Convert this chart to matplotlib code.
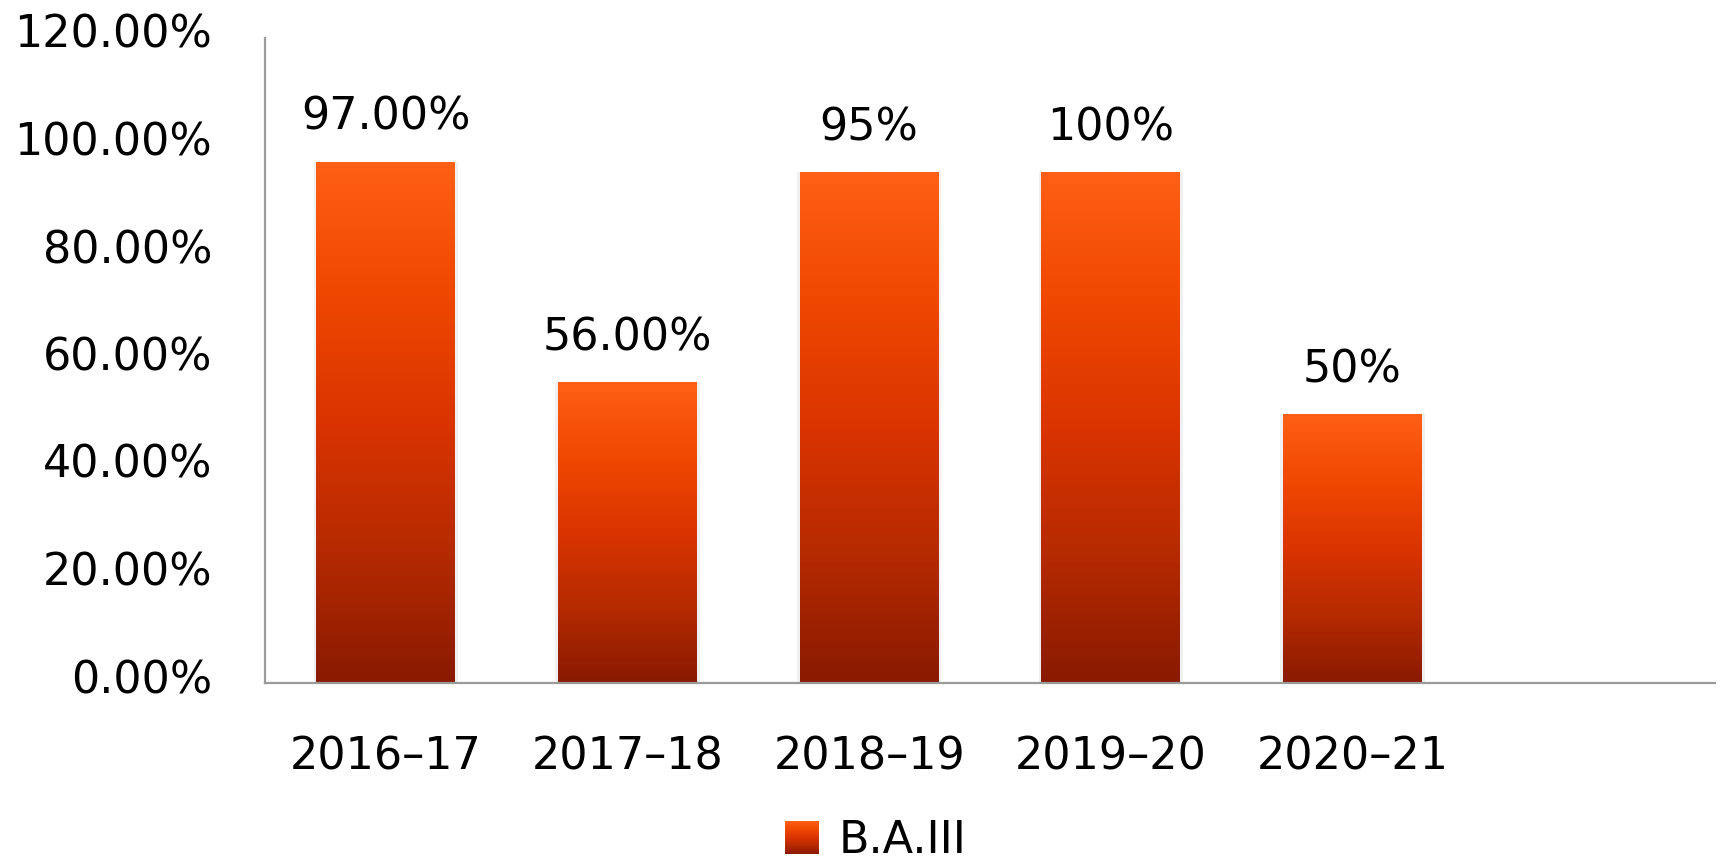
import matplotlib
matplotlib.use("Agg")
import matplotlib.pyplot as plt
import matplotlib.transforms as mtransforms
import numpy as np
from matplotlib.colors import LinearSegmentedColormap
from matplotlib.ticker import FuncFormatter, MultipleLocator

# ----------------------------
# Data
# ----------------------------
years = ["2016–17", "2017–18", "2018–19", "2019–20", "2020–21", ""]
values = [97, 56, 95, 95, 50, 0]
value_labels = ["97.00%", "56.00%", "95%", "100%", "50%", ""]
series_name = "B.A.III"

# ----------------------------
# Style
# ----------------------------
plt.rcParams["font.family"] = ["DejaVu Sans"]
FS = 32
AXIS_GREY = "#9a9a9a"
grad = LinearSegmentedColormap.from_list(
    "bar_grad", ["#891a00", "#b52a00", "#da3400", "#f04800", "#ff5f16"]
)
grad_img = np.linspace(0, 1, 256).reshape(-1, 1)

fig = plt.figure(figsize=(17.21, 8.59), dpi=100)
ax = fig.add_axes([265 / 1721, 176 / 859, 1450 / 1721, 645 / 859])

x = np.arange(len(years))
bars = ax.bar(x, values, width=0.575, color="none", zorder=2)

# gradient fill for each bar, clipped to the bar rectangle
for rect in bars:
    h = rect.get_height()
    if h <= 0:
        continue
    x0 = rect.get_x()
    im = ax.imshow(
        grad_img, cmap=grad, origin="lower", aspect="auto",
        extent=(x0, x0 + rect.get_width(), 0, h), zorder=2,
    )
    im.set_clip_path(rect)
    # faint shadow
    ax.bar(rect.get_x() + rect.get_width() / 2, h, width=rect.get_width() * 1.04,
           color="#000000", alpha=0.06, zorder=1)

for xi, v, lab in zip(x, values, value_labels):
    if lab:
        ax.annotate(lab, (xi, v), xytext=(0, 23), textcoords="offset points",
                    ha="center", va="baseline", fontsize=FS, color="#000000")

ax.set_xlim(-0.5, len(years) - 0.5)
ax.set_ylim(0, 120)
ax.yaxis.set_major_locator(MultipleLocator(20))
ax.yaxis.set_major_formatter(FuncFormatter(lambda v, _: f"{v:.2f}%"))
ax.set_xticks(x)
ax.set_xticklabels(years)
ax.tick_params(axis="both", length=0, labelsize=FS, colors="#000000")
ax.tick_params(axis="y", pad=38)
ax.tick_params(axis="x", pad=38)

# y labels sit a little above their tick positions, as in the original
shift = mtransforms.ScaledTranslation(0, 7 / 100, fig.dpi_scale_trans)
for lbl in ax.get_yticklabels():
    lbl.set_transform(lbl.get_transform() + shift)

for side in ("top", "right"):
    ax.spines[side].set_visible(False)
for side in ("left", "bottom"):
    ax.spines[side].set_color(AXIS_GREY)
    ax.spines[side].set_linewidth(1.6)

# legend with gradient swatch
proxy = plt.Rectangle((0, 0), 1, 1, facecolor="#da3400", edgecolor="none")
leg = fig.legend([proxy], [series_name], loc="lower center",
                 bbox_to_anchor=(876 / 1721, -0.05), frameon=False,
                 fontsize=FS, handlelength=0.75, handleheight=0.75,
                 handletextpad=0.45)

fig.canvas.draw()
patch = leg.get_patches()[0]
bb = patch.get_window_extent().transformed(fig.transFigure.inverted())
lax = fig.add_axes([bb.x0, bb.y0, bb.width, bb.height], zorder=10)
lax.imshow(grad_img, cmap=grad, origin="lower", aspect="auto")
lax.set_axis_off()

fig.savefig("out.png", dpi=100)
